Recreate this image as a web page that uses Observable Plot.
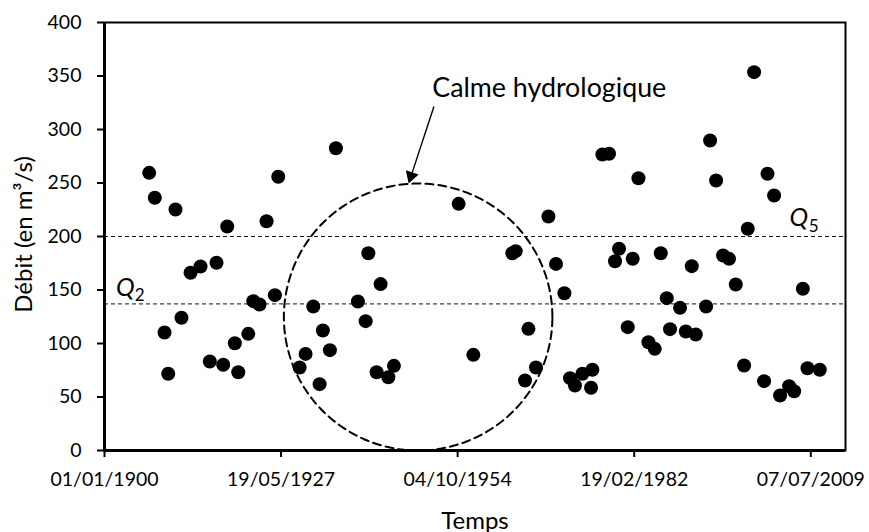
<!DOCTYPE html>
<html>
<head>
<meta charset="utf-8">
<script src="https://cdn.jsdelivr.net/npm/d3@7"></script>
<script src="https://cdn.jsdelivr.net/npm/@observablehq/plot@0.6"></script>
<style>
  html, body { margin: 0; padding: 0; background: #fff; }
  #chart { width: 869px; height: 532px; }
</style>
</head>
<body>
<div id="chart"></div>
<script>
// ---- data (decimal years and discharge in m3/s) ----
const years = [1906.93, 1907.80, 1909.31, 1909.88, 1911.01, 1911.94, 1913.34, 1914.89, 1916.33, 1917.37,
  1918.41, 1919.03, 1920.21, 1920.74, 1922.29, 1923.07, 1924.04, 1925.13, 1926.42, 1926.94,
  1930.25, 1931.18, 1932.37, 1933.35, 1933.86, 1934.95, 1935.88, 1939.29, 1940.49, 1940.91,
  1942.19, 1942.81, 1944.01, 1944.88, 1954.91, 1957.19, 1963.24, 1963.76, 1965.20, 1965.73,
  1966.90, 1968.83, 1970.01, 1971.31, 1972.18, 1972.95, 1974.10, 1975.44, 1975.65, 1977.20,
  1978.23, 1979.16, 1979.78, 1981.13, 1981.90, 1982.79, 1984.34, 1985.32, 1986.25, 1987.18,
  1987.69, 1989.24, 1990.13, 1991.06, 1991.68, 1993.28, 1993.90, 1994.83, 1995.91, 1996.84,
  1997.88, 1999.17, 1999.74, 2000.72, 2002.27, 2002.80, 2003.82, 2004.75, 2006.15, 2006.93,
  2008.28, 2009.00, 2010.91];
const debits = [259.5, 236.2, 110.3, 71.7, 225.2, 124.0, 166.1, 172.0, 83.2, 175.4,
  80.1, 209.3, 100.3, 73.2, 109.0, 139.6, 136.4, 214.3, 145.2, 255.8,
  77.6, 90.3, 134.6, 62.0, 112.1, 93.8, 282.5, 139.3, 120.9, 184.4,
  73.2, 155.5, 68.5, 79.1, 230.5, 89.4, 184.4, 186.3, 65.4, 113.7,
  77.6, 218.7, 174.4, 147.0, 67.6, 60.7, 71.7, 58.6, 75.4, 276.6,
  277.3, 176.9, 188.5, 115.3, 179.2, 254.5, 101.2, 95.0, 184.4, 142.4,
  113.4, 133.3, 111.2, 172.3, 108.4, 134.6, 289.7, 252.3, 182.2, 179.1,
  155.1, 79.4, 207.2, 353.6, 64.8, 258.6, 238.3, 51.4, 60.1, 55.4,
  151.1, 76.9, 75.4];

const xTickLabels = ["01/01/1900", "19/05/1927", "04/10/1954", "19/02/1982", "07/07/2009"];
const yTicks = [0, 50, 100, 150, 200, 250, 300, 350, 400];
const quantileNames = ["Q5", "Q2"];
const quantileValues = [200, 137];
const xTitle = "Temps";
const yTitle = "Débit (en m³/s)";
const annotationText = "Calme hydrologique";

// ---- helpers ----
const DAY = 864e5;
const T0 = Date.UTC(1900, 0, 1);
const fromYear = y => new Date(T0 + (y - 1900) * 365.25 * DAY);
const parseFr = s => { const [d, m, y] = s.split("/").map(Number); return new Date(Date.UTC(y, m - 1, d)); };
const xTicks = xTickLabels.map(parseFr);
const xDomain = [new Date(T0), new Date(T0 + 41965 * DAY)];

const data = years.map((y, i) => ({date: fromYear(y), q: debits[i]}));

// dashed ellipse "calme hydrologique" (in data units)
const ell = {cYear: 1948.63, cQ: 124.75, rYear: 20.82, rQ: 124.75};
const ellipse = d3.range(0, 361, 2).map(a => {
  const t = a * Math.PI / 180;
  return {date: fromYear(ell.cYear + ell.rYear * Math.cos(t)), q: ell.cQ + ell.rQ * Math.sin(t)};
});

const arrow = [{x1: fromYear(1951.08), y1: 321.5, x2: fromYear(1947.53), y2: 256.4}];
const head = [{date: fromYear(1947.53), q: 256.4}];

const chart = Plot.plot({
  width: 869,
  height: 532,
  marginLeft: 104,
  marginRight: 24,
  marginTop: 22,
  marginBottom: 82,
  style: {fontFamily: "Lato, 'Open Sans', sans-serif", fontSize: "19.5px", color: "black", background: "white", overflow: "visible"},
  x: {type: "utc", domain: xDomain},
  y: {domain: [0, 400]},
  marks: [
    Plot.ruleY(quantileValues, {stroke: "#111", strokeWidth: 1, strokeDasharray: "4,3"}),
    Plot.line(ellipse, {x: "date", y: "q", stroke: "black", strokeWidth: 2, strokeDasharray: "8,5"}),
    Plot.dot(data, {x: "date", y: "q", r: 7, fill: "black", stroke: null}),
    Plot.frame({stroke: "black", strokeWidth: 2}),
    Plot.ruleY([0], {stroke: "black", strokeWidth: 3}),
    Plot.ruleX([xDomain[0]], {stroke: "black", strokeWidth: 3}),
    Plot.axisX({ticks: xTicks, tickFormat: (d, i) => xTickLabels[i], tickSize: 7, tickPadding: 15, strokeWidth: 2, label: null, fontSize: 19.5}),
    Plot.axisY({ticks: yTicks, tickSize: 7, tickPadding: 16, strokeWidth: 2, label: null, fontSize: 19.5}),
    Plot.text([xTitle], {text: d => d, frameAnchor: "bottom", lineAnchor: "top", dy: 61, fontSize: 24}),
    Plot.text([yTitle], {text: d => d, frameAnchor: "left", textAnchor: "middle", lineAnchor: "middle", rotate: -90, dx: -80, dy: -2, fontSize: 24}),
    Plot.text([annotationText], {text: d => d, x: () => fromYear(1950.82), y: () => 338, textAnchor: "start", fontSize: 26.8}),
    Plot.link(arrow, {x1: "x1", y1: "y1", x2: "x2", y2: "y2", stroke: "black", strokeWidth: 1.4}),
    Plot.dot(head, {x: "date", y: "q", symbol: "triangle", r: 5, fill: "black", stroke: null, rotate: 198}),
    // Q5 label
    Plot.text(["Q"], {text: d => d, x: () => fromYear(2006.2), y: () => 217.2, textAnchor: "start", fontSize: 25, fontStyle: "italic"}),
    Plot.text(["5"], {text: d => d, x: () => fromYear(2009.2), y: () => 209.0, textAnchor: "start", fontSize: 17}),
    // Q2 label
    Plot.text(["Q"], {text: d => d, x: () => fromYear(1901.8), y: () => 151.8, textAnchor: "start", fontSize: 25, fontStyle: "italic"}),
    Plot.text(["2"], {text: d => d, x: () => fromYear(1904.7), y: () => 145.0, textAnchor: "start", fontSize: 17})
  ]
});
document.getElementById("chart").appendChild(chart);
</script>
</body>
</html>
